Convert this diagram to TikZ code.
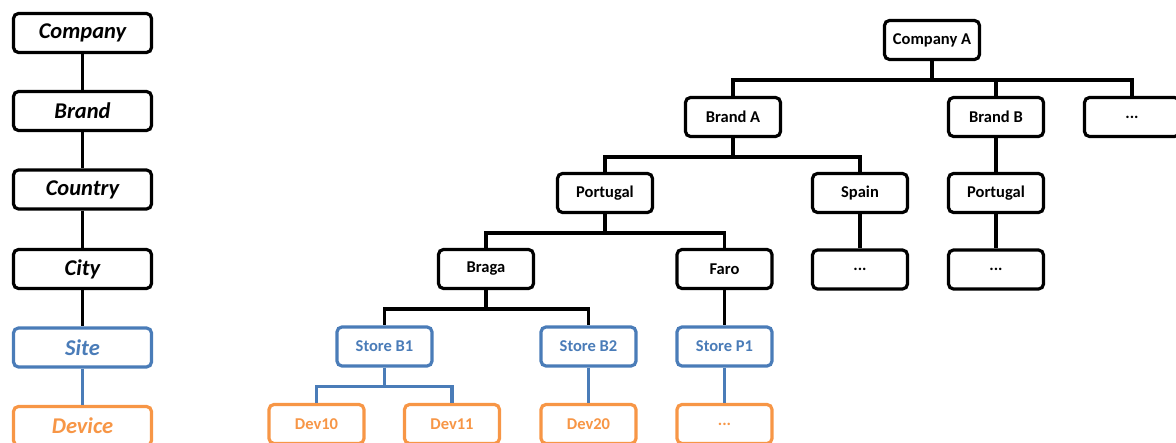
\documentclass[tikz,border=0pt]{standalone}
\usepackage{fontspec}
\setmainfont{Carlito}
\definecolor{siteblue}{HTML}{4A7CB8}
\definecolor{devorange}{HTML}{F79646}
\begin{document}
\begin{tikzpicture}[x=1pt,y=-1pt,
  box/.style={draw=black, line width=3.2pt, rounded corners=5pt, fill=white,
    minimum width=95pt, minimum height=39pt, inner sep=0pt,
    font=\fontsize{16.5}{19}\selectfont\bfseries, text=black},
  levelbox/.style={box, minimum width=138pt, minimum height=39pt,
    font=\fontsize{22.5}{26}\selectfont\bfseries\itshape},
  sitebox/.style={draw=siteblue, text=siteblue},
  devbox/.style={draw=devorange, text=devorange},
  link/.style={draw=black, line width=3.2pt},
  bluelink/.style={link, draw=siteblue},
  tree/.style={to path={-- ++(0,19) -| (\tikztotarget)}}
]
\useasboundingbox (0,0) rectangle (1176,443);

% level legend on the left
\node[levelbox] (lcompany) at (82.5,33) {Company};
\node[levelbox] (lbrand)   at (82.5,111) {Brand};
\node[levelbox] (lcountry) at (82.5,189.5) {Country};
\node[levelbox] (lcity)    at (82.5,269) {City};
\node[levelbox, sitebox] (lsite) at (82.5,347.5) {Site};
\node[levelbox, devbox]  (ldevice) at (82.5,426) {Device};

\draw[link] (lcompany) -- (lbrand);
\draw[link] (lbrand) -- (lcountry);
\draw[link] (lcountry) -- (lcity);
\draw[link] (lcity) -- (lsite);
\draw[bluelink] (lsite) -- (ldevice);

% example hierarchy
\node[box] (compA) at (932,40) {Company A};

\node[box] (brandA) at (733,117) {Brand A};
\node[box] (brandB) at (996,117) {Brand B};
\node[box] (brandX) at (1132,117) {...};

\node[box] (ptA)   at (605,193) {Portugal};
\node[box] (spain) at (860,193) {Spain};
\node[box] (ptB)   at (996,193) {Portugal};

\node[box] (braga) at (486,269) {Braga};
\node[box] (faro)  at (724.5,269) {Faro};
\node[box] (spainX) at (860,269.5) {...};
\node[box] (ptBX)   at (996,269.5) {...};

\node[box, sitebox] (sb1) at (384.5,346.5) {Store B1};
\node[box, sitebox] (sb2) at (588.5,346.5) {Store B2};
\node[box, sitebox] (sp1) at (724.5,346.5) {Store P1};

\node[box, devbox] (d10) at (316.5,424) {Dev10};
\node[box, devbox] (d11) at (452,424) {Dev11};
\node[box, devbox] (d20) at (588.5,424) {Dev20};
\node[box, devbox] (dX)  at (724.5,424) {...};

% connectors between levels
\draw[link] (compA.south) to[tree] (brandA.north);
\draw[link] (compA.south) to[tree] (brandB.north);
\draw[link] (compA.south) to[tree] (brandX.north);

\draw[link] (brandA.south) to[tree] (ptA.north);
\draw[link] (brandA.south) to[tree] (spain.north);
\draw[link] (brandB.south) -- (ptB.north);

\draw[link] (ptA.south) to[tree] (braga.north);
\draw[link] (ptA.south) to[tree] (faro.north);
\draw[link] (spain.south) -- (spainX.north);
\draw[link] (ptB.south) -- (ptBX.north);

\draw[link] (braga.south) to[tree] (sb1.north);
\draw[link] (braga.south) to[tree] (sb2.north);
\draw[link] (faro.south) -- (sp1.north);

\draw[bluelink] (sb1.south) to[tree] (d10.north);
\draw[bluelink] (sb1.south) to[tree] (d11.north);
\draw[bluelink] (sb2.south) -- (d20.north);
\draw[bluelink] (sp1.south) -- (dX.north);
\end{tikzpicture}
\end{document}
